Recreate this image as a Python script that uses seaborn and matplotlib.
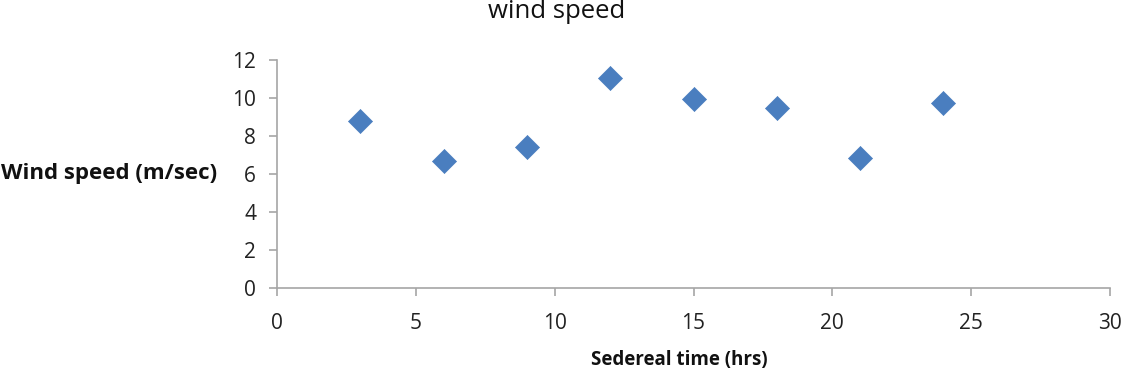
import matplotlib
matplotlib.use("Agg")
import matplotlib.pyplot as plt
import seaborn as sns
import pandas as pd

sidereal_hours = [3, 6, 9, 12, 15, 18, 21, 24]
wind_speed = [8.8, 6.7, 7.4, 11.05, 9.93, 9.47, 6.82, 9.75]
x_ticks = [0, 5, 10, 15, 20, 25, 30]
y_ticks = [0, 2, 4, 6, 8, 10, 12]

sns.set_theme(style="white")
plt.rcParams['font.family'] = ['Open Sans', 'DejaVu Sans']

df = pd.DataFrame({"t": sidereal_hours, "w": wind_speed})

fig = plt.figure(figsize=(11.29, 3.78), dpi=100)
ax = fig.add_axes([277/1129, 1-288/378, (1110-277)/1129, (288-60)/378])
sns.scatterplot(data=df, x="t", y="w", marker="D", s=150, color="#4A7EBF",
                edgecolor="#4A7EBF", linewidth=0.5, ax=ax, legend=False)

ax.set_xlim(0, 30)
ax.set_ylim(0, 12)
ax.set_xticks(x_ticks)
ax.set_yticks(y_ticks)
for s in ["top", "right"]:
    ax.spines[s].set_visible(False)
for s in ["left", "bottom"]:
    ax.spines[s].set_color("#A6A6A6")
    ax.spines[s].set_linewidth(1.2)
ax.tick_params(axis="both", which="major", length=6, width=1.2, color="#A6A6A6",
               labelsize=15, labelcolor="#222222", direction="out")
ax.tick_params(axis="x", pad=12)
ax.tick_params(axis="y", pad=9)
ax.tick_params(left=True, bottom=True)
ax.set_xlabel("")
ax.set_ylabel("")

fig.text(557/1129, 1-12/378, "wind speed", ha="center", va="center", fontsize=18.5, color="#111111")
fig.text(1/1129, 1-173/378, "Wind speed (m/sec)", ha="left", va="center", fontsize=16, fontweight="bold", color="#111111")
fig.text(679/1129, 1-360/378, "Sedereal time (hrs)", ha="center", va="center", fontsize=13.5, fontweight="bold", color="#111111")

fig.savefig("out.png", dpi=100)
